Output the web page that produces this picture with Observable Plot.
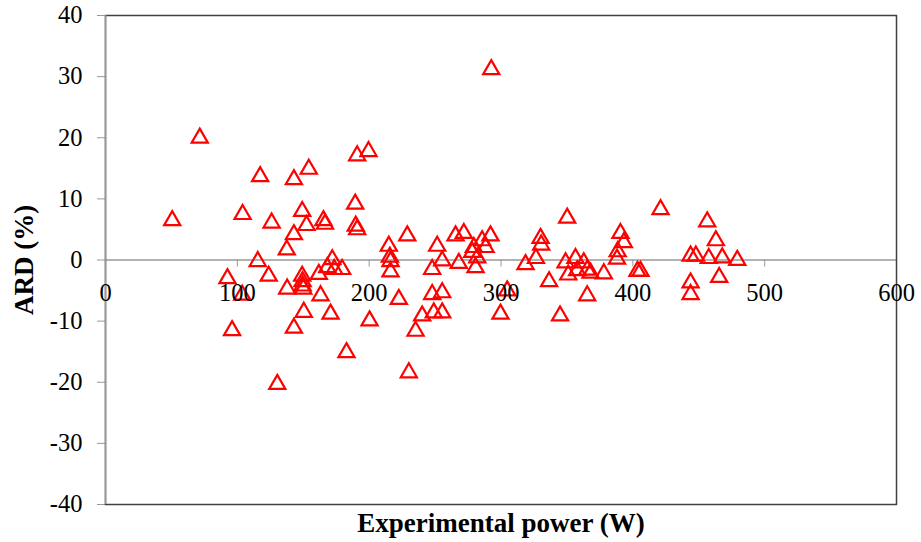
<!DOCTYPE html>
<html><head><meta charset="utf-8">
<script src="https://cdn.jsdelivr.net/npm/d3@7"></script>
<script src="https://cdn.jsdelivr.net/npm/@observablehq/plot@0.6"></script>
<style>body{margin:0;background:#fff}</style>
</head><body><div id="chart"></div>
<script>
const power = [50.6, 71.5, 92.5, 96, 103.7, 104, 115.5, 117.3, 123.8, 126, 130.3, 137.5, 137.8, 142.9, 142.9, 142.9,
  149.2, 149.2, 149.5, 149.5, 150, 150.4, 152.5, 154.2, 161.8, 163.1, 165.3, 166.5, 168.2, 170.7, 172, 173.5, 179.5,
  182.8, 189.4, 189.8, 190.9, 190.9, 199.5, 200.3, 214.9, 215.7, 216.2, 216.2, 222.5, 228.9, 230.1, 235.2, 240.2,
  247.8, 247.8, 249, 251.6, 255.4, 255.4, 255.4, 265.5, 268, 271.8, 278.2, 279.4, 280.7, 282, 285.7, 288.3, 292,
  292.6, 299.6, 304.7, 318.6, 326.5, 330, 330.5, 336.5, 344.8, 349, 350.2, 351, 356.5, 357.8, 362.8, 365.4, 365.4,
  367.9, 378, 388, 388.5, 390.6, 393.2, 403.5, 405.8, 421, 443.8, 443.8, 443.8, 447.8, 456.4, 457.6, 463, 465.5,
  467.8, 479.2];
const ard = [6.8, 20.3, -2.7, -11.2, -5.4, 7.8, 0.1, 14.0, -2.3, 6.4, -20.0, 2.0, -4.4, 13.5, 4.5, -10.8,
  8.3, -2.3, -3.2, -3.9, -4.4, -8.2, 6.0, 15.2, -2.0, -5.5, 6.8, 6.2, -0.9, -8.5, 0.4, -1.2, -1.2,
  -14.8, 9.5, 5.9, 5.3, 17.4, 18.1, -9.6, 2.6, 0.8, 0.1, -1.6, -6.1, 4.3, -18.1, -11.3, -8.8,
  -1.2, -5.3, -8.3, 2.6, 0.2, -5.0, -8.3, 4.3, -0.2, 4.7, 1.6, 2.4, -0.9, 0.7, 3.5, 2.4, 4.3,
  31.5, -8.5, -4.7, -0.4, 0.6, 3.9, 2.8, -3.2, -8.8, -0.1, 7.2, -2.1, 0.6, -1.4, -0.1, -1.3, -5.5,
  -1.8, -1.9, 0.5, 1.7, 4.7, 3.2, -1.5, -1.5, 8.6, 1.0, -3.4, -5.3, 1.0, 6.6, 0.6, 3.5, -2.5,
  0.7, 0.3];
const xTicks = [0, 100, 200, 300, 400, 500, 600];
const yTicks = [-40, -30, -20, -10, 0, 10, 20, 30, 40];
const xTitle = "Experimental power (W)";
const yTitle = "ARD (%)";

const data = power.map((p, i) => ({power: p, ard: ard[i]}));
const serif = "Liberation Serif";

const chart = Plot.plot({
  width: 921, height: 542,
  marginLeft: 105, marginRight: 25, marginTop: 15, marginBottom: 38,
  style: "font-family: 'Liberation Serif'; background: #fff; color: #000;",
  x: {domain: [0, 600], axis: null},
  y: {domain: [-40, 40], axis: null},
  marks: [
    Plot.ruleY([0], {stroke: "#999", strokeWidth: 1.5}),
    Plot.ruleX(xTicks.filter(d => d > 0 && d < 600), {x: d => d, y1: 0, y2: 0, insetBottom: -7, stroke: "#999"}),
    Plot.axisY({ticks: yTicks, tickSize: 8, tickPadding: 15, fontSize: 24.5, fontFamily: serif, tickFormat: d => String(d), label: null, stroke: "#999"}),
    Plot.frame({stroke: "#404040", strokeWidth: 1.5}),
    Plot.ruleX([0], {stroke: "#999", strokeWidth: 1.5}),
    Plot.dot(data, {x: "power", y: "ard", symbol: "triangle", r: 6, stroke: "#ff0000", strokeWidth: 2.2, fill: "none", dy: 2}),
    Plot.text(xTicks, {x: d => d, y: 0, text: d => String(d), dy: 33, fontSize: 24.5, fontFamily: serif, fill: "#000"}),
    Plot.text([xTitle], {frameAnchor: "bottom", lineAnchor: "middle", textAnchor: "middle", dy: 19, fontSize: 27, fontFamily: serif, fontWeight: "bold", fill: "#000"}),
    Plot.text([yTitle], {frameAnchor: "left", textAnchor: "middle", lineAnchor: "middle", dx: -81, rotate: -90, fontSize: 27, fontFamily: serif, fontWeight: "bold", fill: "#000"})
  ]
});
d3.select(chart).selectAll("text").attr("font-family", serif);
document.getElementById("chart").appendChild(chart);
</script>
</body></html>
